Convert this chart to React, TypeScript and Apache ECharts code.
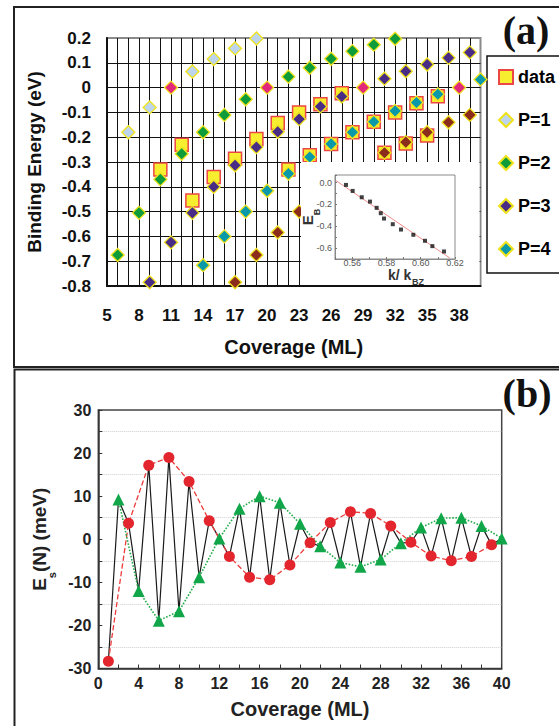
import React, { useEffect, useRef } from 'react';
import * as echarts from 'echarts';

// ---------- Panel (a): binding energy vs coverage ----------
const dataPts: [number, number][] = [
  [10, -0.33], [12, -0.23], [13, -0.455], [15, -0.36], [17, -0.287], [19, -0.207],
  [21, -0.143], [22, -0.33], [23, -0.1], [24, -0.273], [25, -0.067], [26, -0.227],
  [27, -0.023], [28, -0.18], [30, -0.138], [31, -0.263], [32, -0.1], [33, -0.225],
  [34, -0.063], [35, -0.193], [36, -0.035],
];
const p1Pts: [number, number][] = [
  [7, -0.18], [9, -0.08], [13, 0.065], [15, 0.115], [17, 0.158], [19, 0.198],
];
const p2Pts: [number, number][] = [
  [6, -0.675], [8, -0.505], [10, -0.37], [12, -0.267], [14, -0.18], [16, -0.11],
  [18, -0.047], [22, 0.044], [24, 0.08], [26, 0.116], [28, 0.147], [30, 0.173], [32, 0.197],
];
const p3Pts: [number, number][] = [
  [9, -0.785], [11, -0.624], [13, -0.505], [15, -0.4], [17, -0.313], [19, -0.24],
  [21, -0.178], [23, -0.127], [25, -0.076], [27, -0.036], [31, 0.036], [33, 0.066],
  [35, 0.093], [37, 0.12], [39, 0.142],
];
const p4Pts: [number, number][] = [
  [14, -0.716], [16, -0.6], [18, -0.5], [20, -0.416], [22, -0.347], [24, -0.28],
  [26, -0.227], [28, -0.18], [30, -0.138], [32, -0.094], [34, -0.06], [36, -0.027], [40, 0.033],
];
const p5Pts: [number, number][] = [
  [17, -0.785], [19, -0.675], [21, -0.584], [23, -0.5], [31, -0.263], [33, -0.22],
  [35, -0.18], [37, -0.14], [39, -0.11],
];
const zeroPts: [number, number][] = [[11, 0], [20, 0], [29, 0], [38, 0]];

// inset: E_B vs k/k_BZ
const insetPts: [number, number][] = [
  [0.5564, -0.021], [0.5603, -0.076], [0.5656, -0.134], [0.5704, -0.174],
  [0.5743, -0.231], [0.5767, -0.28], [0.5786, -0.329], [0.5837, -0.381],
  [0.5885, -0.43], [0.5957, -0.478], [0.6025, -0.533], [0.6068, -0.582], [0.6136, -0.631],
];
const insetFit: [number, number][] = [[0.5506, 0.018], [0.6171, -0.692]];

// ---------- Panel (b): Es(N) ----------
const oddN: [number, number][] = [
  [1, -28.3], [3, 3.7], [5, 17.2], [7, 19.0], [9, 13.4], [11, 4.3], [13, -4.0],
  [15, -8.8], [17, -9.4], [19, -6.0], [21, -0.8], [23, 3.9], [25, 6.4], [27, 6.0],
  [29, 3.1], [31, -0.7], [33, -3.9], [35, -5.0], [37, -4.0], [39, -1.3],
];
const evenN: [number, number][] = [
  [2, 9.2], [4, -12.0], [6, -18.9], [8, -16.7], [10, -8.8], [12, 0.2], [14, 7.1],
  [16, 10.0], [18, 8.5], [20, 3.6], [22, -1.6], [24, -5.4], [26, -6.4], [28, -4.7],
  [30, -0.9], [32, 2.7], [34, 4.9], [36, 5.0], [38, 3.1], [40, 0.2],
];
const allN: [number, number][] = [...oddN, ...evenN].sort((a, b) => a[0] - b[0]);

const SANS = '"Liberation Sans", Arial, Helvetica, sans-serif';
const SERIF = '"Liberation Serif", "Times New Roman", serif';
const YEL = '#f0e31c';

function diamond(name: string, data: [number, number][], color: string) {
  return {
    name, type: 'scatter', xAxisIndex: 0, yAxisIndex: 0, data,
    symbol: 'diamond', symbolSize: 13,
    itemStyle: { color, borderColor: YEL, borderWidth: 1.3, opacity: 1 },
    z: 3,
  };
}

export default function App() {
  const ref = useRef<HTMLDivElement>(null);
  useEffect(() => {
    document.body.style.margin = '0';
    const chart = echarts.init(ref.current!, null, { renderer: 'svg' });
    const option: any = {
      animation: false,
      backgroundColor: '#fff',
      grid: [
        { left: 107, top: 38, width: 373.5, height: 248, show: true, borderColor: '#8a8a8a', borderWidth: 2, backgroundColor: 'transparent' },
        { left: 335, top: 175, width: 120, height: 84, show: true, borderColor: '#8a8a8a', borderWidth: 1, backgroundColor: 'transparent', z: 20 },
        { left: 98.3, top: 410, width: 403.4, height: 258.5, show: true, borderColor: '#444', borderWidth: 1.5, backgroundColor: 'transparent' },
      ],
      xAxis: [
        {
          gridIndex: 0, type: 'value', min: 5, max: 40, interval: 1,
          axisLine: { show: true, onZero: false, lineStyle: { color: '#111', width: 2 } },
          axisTick: { show: false },
          splitLine: { show: true, showMaxLine: false, lineStyle: { color: '#111', width: 1 } },
          axisLabel: {
            formatter: (v: number) => { const r = Math.round(v); return (r - 5) % 3 === 0 && r <= 38 ? String(r) : ''; },
            fontSize: 17, fontWeight: 'bold', color: '#111', margin: 21, fontFamily: SANS,
          },
          name: 'Coverage (ML)', nameLocation: 'middle', nameGap: 51,
          nameTextStyle: { fontSize: 20, fontWeight: 'bold', color: '#111', fontFamily: SANS },
        },
        {
          gridIndex: 1, type: 'value', min: 0.55, max: 0.62, interval: 0.01, z: 20,
          axisLine: { show: true, onZero: false, lineStyle: { color: '#8a8a8a', width: 1 } },
          axisTick: { show: true, inside: true, length: 2, lineStyle: { color: '#777' } },
          splitLine: { show: false },
          axisLabel: {
            formatter: (v: number) => { const r = Math.round(v * 100); return r % 2 === 0 && r >= 56 ? (r / 100).toFixed(2) : ''; },
            fontSize: 9, color: '#555', margin: -1, fontFamily: SANS,
          },
        },
        {
          gridIndex: 2, type: 'value', min: 0, max: 40, interval: 4,
          axisLine: { show: true, onZero: false, lineStyle: { color: '#333', width: 1.5 } },
          axisTick: { show: true, inside: true, length: 4, lineStyle: { color: '#333' } },
          minorTick: { show: true, splitNumber: 2, length: 4, lineStyle: { color: '#333' } },
          splitLine: { show: false },
          axisLabel: { fontSize: 16, fontWeight: 'bold', color: '#222', margin: 7, fontFamily: SANS },
          name: 'Coverage (ML)', nameLocation: 'middle', nameGap: 30,
          nameTextStyle: { fontSize: 20, fontWeight: 'bold', color: '#222', fontFamily: SANS },
        },
      ],
      yAxis: [
        {
          gridIndex: 0, type: 'value', min: -0.8, max: 0.2, interval: 0.1,
          axisLine: { show: true, onZero: false, lineStyle: { color: '#111', width: 2 } },
          axisTick: { show: false },
          splitLine: { show: true, showMaxLine: false, lineStyle: { color: '#111', width: 1 } },
          axisLabel: {
            formatter: (v: number) => (Math.abs(v) < 1e-9 ? '0' : v.toFixed(1)),
            fontSize: 17, fontWeight: 'bold', color: '#111', margin: 16, fontFamily: SANS,
          },
          name: 'Binding Energy (eV)', nameLocation: 'middle', nameRotate: 90, nameGap: 63,
          nameTextStyle: { fontSize: 19, fontWeight: 'bold', color: '#111', fontFamily: SANS },
        },
        {
          gridIndex: 1, type: 'value', min: -0.7, max: 0.07, interval: 0.1, z: 20,
          axisLine: { show: true, onZero: false, lineStyle: { color: '#8a8a8a', width: 1 } },
          axisTick: { show: true, inside: true, length: 2, lineStyle: { color: '#777' } },
          splitLine: { show: false },
          axisLabel: {
            formatter: (v: number) => { if (v > 0.01) return ''; const r = Math.round(v * 10); return r % 2 === 0 ? (r / 10).toFixed(1).replace('-0.0', '0.0') : ''; },
            fontSize: 9, color: '#555', margin: 3, fontFamily: SANS,
          },
        },
        {
          gridIndex: 2, type: 'value', min: -30, max: 30, interval: 10,
          axisLine: { show: true, onZero: false, lineStyle: { color: '#333', width: 1.5 } },
          axisTick: { show: true, inside: true, length: 4, lineStyle: { color: '#333' } },
          minorTick: { show: true, splitNumber: 2, length: 4, lineStyle: { color: '#333' } },
          minorSplitLine: { show: true, lineStyle: { color: '#cfcfcf', type: 'dotted', width: 1 } },
          splitLine: { show: false },
          axisLabel: { fontSize: 16, fontWeight: 'bold', color: '#222', margin: 7, fontFamily: SANS },
          name: 'E{s|s}(N) (meV)', nameLocation: 'middle', nameRotate: 90, nameGap: 40,
          nameTextStyle: {
            fontSize: 19, fontWeight: 'bold', color: '#222', fontFamily: SANS, lineHeight: 36,
            rich: { s: { fontSize: 11, fontWeight: 'bold', color: '#222', fontFamily: SANS, lineHeight: 12, verticalAlign: 'bottom' } },
          },
        },
      ],
      legend: {
        data: [
          { name: 'data', icon: 'rect' },
          { name: 'P=1', icon: 'diamond' },
          { name: 'P=2', icon: 'diamond' },
          { name: 'P=3', icon: 'diamond' },
          { name: 'P=4', icon: 'diamond' },
        ],
        orient: 'vertical', left: 493, top: 63, itemWidth: 14, itemHeight: 14, itemGap: 25,
        textStyle: { fontSize: 18, fontWeight: 'bold', color: '#000', fontFamily: SANS },
        z: 30,
      },
      graphic: [
        { type: 'rect', shape: { x: 14, y: 7, width: 620, height: 360 }, style: { fill: 'none', stroke: '#222', lineWidth: 2 }, z: 1 },
        { type: 'rect', shape: { x: 14.5, y: 369.5, width: 620, height: 420 }, style: { fill: 'none', stroke: '#222', lineWidth: 2 }, z: 1 },
        { type: 'rect', shape: { x: 301, y: 162, width: 178.5, height: 123 }, style: { fill: '#fff' }, z: 15 },
        { type: 'rect', shape: { x: 487, y: 56, width: 120, height: 217 }, style: { fill: '#fff', stroke: '#111', lineWidth: 1.5 }, z: 1 },
        {
          type: 'text', x: 526, y: 30, z: 30,
          style: { text: '(a)', fontSize: 40, fontWeight: 'bold', fontFamily: SERIF, fill: '#111', align: 'center', verticalAlign: 'middle', textAlign: 'center', textVerticalAlign: 'middle' },
        },
        {
          type: 'text', x: 527, y: 393, z: 30,
          style: { text: '(b)', fontSize: 40, fontWeight: 'bold', fontFamily: SERIF, fill: '#111', align: 'center', verticalAlign: 'middle', textAlign: 'center', textVerticalAlign: 'middle' },
        },
        {
          type: 'text', x: 307.5, y: 217, rotation: Math.PI / 2, z: 30,
          style: {
            text: 'E{b|B}', fontSize: 15, fontWeight: 'bold', fontFamily: SANS, fill: '#333', lineHeight: 28,
            rich: { b: { fontSize: 9, fontWeight: 'bold', fontFamily: SANS, fill: '#333', lineHeight: 10, verticalAlign: 'bottom' } },
            align: 'center', verticalAlign: 'middle', textAlign: 'center', textVerticalAlign: 'middle',
          },
        },
        {
          type: 'text', x: 388, y: 274.5, z: 30,
          style: {
            text: 'k/ k', fontSize: 14, fontWeight: 'bold', fontFamily: SANS, fill: '#333', lineHeight: 14,
            align: 'left', verticalAlign: 'middle', textAlign: 'left', textVerticalAlign: 'middle',
          },
        },
        {
          type: 'text', x: 412, y: 281.5, z: 30,
          style: {
            text: 'BZ', fontSize: 9, fontWeight: 'bold', fontFamily: SANS, fill: '#333', lineHeight: 9,
            align: 'left', verticalAlign: 'middle', textAlign: 'left', textVerticalAlign: 'middle',
          },
        },
      ],
      series: [
        {
          name: 'data', type: 'scatter', xAxisIndex: 0, yAxisIndex: 0, data: dataPts,
          symbol: 'rect', symbolSize: 13,
          itemStyle: { color: '#f6ee2e', borderColor: '#ec4646', borderWidth: 1.5, opacity: 1 },
          z: 2,
        },
        diamond('P=1', p1Pts, '#bcd5ec'),
        diamond('P=2', p2Pts, '#0e9c3a'),
        diamond('P=3', p3Pts, '#482c86'),
        diamond('P=4', p4Pts, '#0a99a8'),
        diamond('P=5', p5Pts, '#8c2c1c'),
        diamond('E=0', zeroPts, '#e2287a'),
        {
          name: 'fit', type: 'line', xAxisIndex: 1, yAxisIndex: 1, data: insetFit,
          showSymbol: false, symbol: 'none', lineStyle: { color: '#f08c8c', width: 1 }, z: 21,
        },
        {
          name: 'inset', type: 'scatter', xAxisIndex: 1, yAxisIndex: 1, data: insetPts,
          symbol: 'rect', symbolSize: 4, itemStyle: { color: '#111' }, z: 22,
        },
        {
          name: 'all', type: 'line', xAxisIndex: 2, yAxisIndex: 2, data: allN,
          symbol: 'none', lineStyle: { color: '#1a1a1a', width: 1.2 }, z: 2,
        },
        {
          name: 'odd', type: 'line', xAxisIndex: 2, yAxisIndex: 2, data: oddN,
          symbol: 'circle', symbolSize: 11, showAllSymbol: true,
          itemStyle: { color: '#e3262e' },
          lineStyle: { color: '#ec3b3b', width: 1.3, type: 'dashed' }, z: 3,
        },
        {
          name: 'even', type: 'line', xAxisIndex: 2, yAxisIndex: 2, data: evenN,
          symbol: 'triangle', symbolSize: 12, showAllSymbol: true,
          itemStyle: { color: '#12a64a' },
          lineStyle: { color: '#22ad4a', width: 1.6, type: 'dotted' }, z: 3,
        },
      ],
    };
    chart.setOption(option);
    return () => chart.dispose();
  }, []);
  return <div ref={ref} style={{ width: 559, height: 726, position: 'absolute', left: 0, top: 0 }} />;
}
